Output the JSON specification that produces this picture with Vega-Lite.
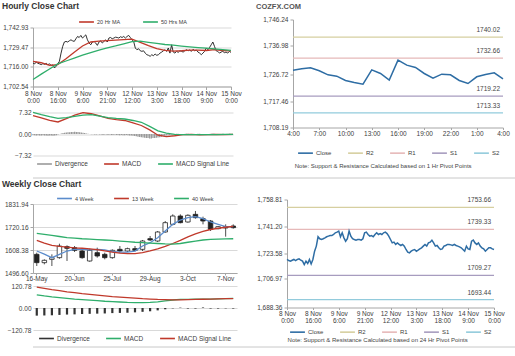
{
"$schema": "https://vega.github.io/schema/vega-lite/v6.json",
"background": "white",
"padding": {"left": 2, "top": 1, "right": 0, "bottom": 0},
"config": {
  "font": "Liberation Sans",
  "view": {"stroke": null},
  "axis": {"labelFontSize": 6.5, "labelColor": "#404040", "domainColor": "#a6a6a6", "tickColor": "#a6a6a6", "gridColor": "#d9d9d9", "tickSize": 3, "labelPadding": 2, "labelOverlap": false},
  "axisX": {"labelFlush": false},
  "legend": {"labelFontSize": 6, "labelColor": "#404040", "symbolType": "stroke", "symbolSize": 220, "symbolStrokeWidth": 1.6, "direction": "horizontal", "title": null, "columnPadding": 12, "offset": 3, "padding": 0, "labelOffset": 2, "layout": {"top": {"anchor": "middle"}, "bottom": {"anchor": "middle"}}},
  "title": {"fontSize": 8.5, "fontWeight": "bold", "color": "#333333", "anchor": "start", "frame": "bounds", "offset": 1}
},
"datasets": {
  "sep": [{"y": 0}],
  "h": [
{"i":0,"c":1718.6,"d":-0.4},{"i":1,"c":1718.0,"d":-0.4},{"i":2,"c":1719.3,"d":-0.5},{"i":3,"c":1718.4,"d":-0.4},{"i":4,"c":1718.0,"d":-0.5},
{"i":5,"c":1717.5,"d":-0.5},{"i":6,"c":1718.2,"d":-0.4},{"i":7,"c":1717.7,"d":-0.5},{"i":8,"c":1718.4,"d":-0.5},{"i":9,"c":1717.5,"d":-0.6},
{"i":10,"c":1718.0,"d":-0.5},{"i":11,"c":1717.0,"d":-0.5},{"i":12,"c":1717.3,"d":-0.6},{"i":13,"c":1715.2,"d":-0.5},{"i":14,"c":1716.4,"d":-0.4},
{"i":15,"c":1718.0,"d":-0.2},{"i":16,"c":1719.8,"d":0.0},{"i":17,"c":1725.4,"d":0.2},{"i":18,"c":1730.0,"d":0.3},{"i":19,"c":1733.0,"d":0.4},
{"i":20,"c":1733.4,"d":0.5},{"i":21,"c":1733.0,"d":0.6},{"i":22,"c":1733.8,"d":0.6},{"i":23,"c":1734.5,"d":0.7},{"i":24,"c":1733.8,"d":0.7},
{"i":25,"c":1733.4,"d":0.8},{"i":26,"c":1735.2,"d":0.7},{"i":27,"c":1736.8,"d":0.7},{"i":28,"c":1736.1,"d":0.6},{"i":29,"c":1737.5,"d":0.5},
{"i":30,"c":1735.7,"d":0.4},{"i":31,"c":1736.8,"d":0.3},{"i":32,"c":1737.9,"d":0.2},{"i":33,"c":1734.5,"d":0.1},{"i":34,"c":1732.3,"d":0.0},
{"i":35,"c":1731.1,"d":-0.1},{"i":36,"c":1733.0,"d":-0.1},{"i":37,"c":1733.4,"d":-0.2},{"i":38,"c":1732.3,"d":-0.2},{"i":39,"c":1730.7,"d":-0.1},
{"i":40,"c":1733.0,"d":-0.2},{"i":41,"c":1733.8,"d":-0.2},{"i":42,"c":1732.3,"d":-0.3},{"i":43,"c":1733.4,"d":-0.2},{"i":44,"c":1734.5,"d":-0.2},
{"i":45,"c":1733.0,"d":-0.3},{"i":46,"c":1735.7,"d":-0.2},{"i":47,"c":1736.1,"d":-0.3},{"i":48,"c":1735.2,"d":-0.3},{"i":49,"c":1735.7,"d":-0.2},
{"i":50,"c":1736.3,"d":-0.3},{"i":51,"c":1736.1,"d":-0.3},{"i":52,"c":1735.7,"d":-0.4},{"i":53,"c":1736.6,"d":-0.3},{"i":54,"c":1736.1,"d":-0.4},
{"i":55,"c":1736.8,"d":-0.4},{"i":56,"c":1735.7,"d":-0.3},{"i":57,"c":1736.8,"d":-0.4},{"i":58,"c":1737.5,"d":-0.5},{"i":59,"c":1736.1,"d":-0.5},
{"i":60,"c":1734.5,"d":-0.6},{"i":61,"c":1733.4,"d":-0.7},{"i":62,"c":1728.9,"d":-0.8},{"i":63,"c":1727.7,"d":-0.9},{"i":64,"c":1728.4,"d":-1.0},
{"i":65,"c":1727.0,"d":-1.1},{"i":66,"c":1726.6,"d":-1.2},{"i":67,"c":1727.0,"d":-1.3},{"i":68,"c":1725.4,"d":-1.4},{"i":69,"c":1724.3,"d":-1.4},
{"i":70,"c":1723.9,"d":-1.5},{"i":71,"c":1723.2,"d":-1.5},{"i":72,"c":1724.3,"d":-1.4},{"i":73,"c":1723.6,"d":-1.4},{"i":74,"c":1724.8,"d":-1.3},
{"i":75,"c":1723.9,"d":-1.2},{"i":76,"c":1724.3,"d":-1.1},{"i":77,"c":1725.4,"d":-0.9},{"i":78,"c":1726.1,"d":-0.8},{"i":79,"c":1727.0,"d":-0.6},
{"i":80,"c":1727.7,"d":-0.5},{"i":81,"c":1726.6,"d":-0.4},{"i":82,"c":1728.9,"d":-0.3},{"i":83,"c":1725.4,"d":-0.2},{"i":84,"c":1731.1,"d":-0.1},
{"i":85,"c":1726.1,"d":0.0},{"i":86,"c":1725.4,"d":0.1},{"i":87,"c":1726.6,"d":0.1},{"i":88,"c":1725.9,"d":0.0},{"i":89,"c":1727.0,"d":-0.1},
{"i":90,"c":1726.6,"d":-0.1},{"i":91,"c":1726.1,"d":0.0},{"i":92,"c":1727.0,"d":0.1},{"i":93,"c":1727.7,"d":0.1},{"i":94,"c":1727.0,"d":0.0},
{"i":95,"c":1727.5,"d":-0.1},{"i":96,"c":1726.6,"d":-0.2},{"i":97,"c":1728.0,"d":-0.1},{"i":98,"c":1727.0,"d":0.0},{"i":99,"c":1727.5,"d":0.1},
{"i":100,"c":1726.1,"d":0.1},{"i":101,"c":1725.4,"d":0.0},{"i":102,"c":1724.3,"d":-0.1},{"i":103,"c":1725.4,"d":-0.2},{"i":104,"c":1726.6,"d":-0.2},
{"i":105,"c":1728.9,"d":-0.1},{"i":106,"c":1727.7,"d":0.0},{"i":107,"c":1729.3,"d":0.1},{"i":108,"c":1731.1,"d":0.2},{"i":109,"c":1733.0,"d":0.1},
{"i":110,"c":1730.0,"d":0.0},{"i":111,"c":1727.0,"d":-0.1},{"i":112,"c":1726.6,"d":-0.1},{"i":113,"c":1725.4,"d":0.0},{"i":114,"c":1726.1,"d":0.1},
{"i":115,"c":1726.6,"d":0.0},{"i":116,"c":1725.7,"d":-0.1},{"i":117,"c":1726.1,"d":0.0},{"i":118,"c":1725.4,"d":0.1},{"i":119,"c":1726.6,"d":0.0},
{"i":120,"c":1725.9,"d":-0.1}
  ],
  "hs": [
{"i":0,"20 Hr MA":1719.8,"50 Hrs MA":1707.3,"MACD":6.24,"MACD Signal Line":7.38},
{"i":5,"20 Hr MA":1718.8,"50 Hrs MA":1711.0,"MACD":5.5,"MACD Signal Line":6.6},
{"i":10,"20 Hr MA":1717.0,"50 Hrs MA":1714.5,"MACD":4.6,"MACD Signal Line":5.9},
{"i":15,"20 Hr MA":1717.5,"50 Hrs MA":1718.0,"MACD":4.1,"MACD Signal Line":5.3},
{"i":20,"20 Hr MA":1721.5,"50 Hrs MA":1720.0,"MACD":5.2,"MACD Signal Line":5.6},
{"i":25,"20 Hr MA":1726.0,"50 Hrs MA":1722.0,"MACD":6.4,"MACD Signal Line":6.0},
{"i":30,"20 Hr MA":1730.3,"50 Hrs MA":1724.0,"MACD":7.3,"MACD Signal Line":6.4},
{"i":35,"20 Hr MA":1733.0,"50 Hrs MA":1725.8,"MACD":6.9,"MACD Signal Line":6.6},
{"i":40,"20 Hr MA":1733.6,"50 Hrs MA":1727.5,"MACD":6.2,"MACD Signal Line":6.1},
{"i":45,"20 Hr MA":1734.0,"50 Hrs MA":1729.0,"MACD":5.3,"MACD Signal Line":5.6},
{"i":50,"20 Hr MA":1734.3,"50 Hrs MA":1730.3,"MACD":4.9,"MACD Signal Line":5.3},
{"i":55,"20 Hr MA":1734.6,"50 Hrs MA":1731.8,"MACD":4.6,"MACD Signal Line":5.1},
{"i":60,"20 Hr MA":1735.0,"50 Hrs MA":1733.2,"MACD":3.8,"MACD Signal Line":4.6},
{"i":65,"20 Hr MA":1732.8,"50 Hrs MA":1733.6,"MACD":2.9,"MACD Signal Line":4.0},
{"i":70,"20 Hr MA":1730.5,"50 Hrs MA":1732.8,"MACD":1.4,"MACD Signal Line":2.6},
{"i":75,"20 Hr MA":1728.5,"50 Hrs MA":1732.0,"MACD":-0.4,"MACD Signal Line":1.1},
{"i":80,"20 Hr MA":1727.2,"50 Hrs MA":1731.3,"MACD":-0.9,"MACD Signal Line":0.3},
{"i":85,"20 Hr MA":1726.8,"50 Hrs MA":1730.8,"MACD":-0.6,"MACD Signal Line":-0.1},
{"i":90,"20 Hr MA":1727.0,"50 Hrs MA":1730.2,"MACD":-0.2,"MACD Signal Line":-0.2},
{"i":95,"20 Hr MA":1727.4,"50 Hrs MA":1729.7,"MACD":-0.1,"MACD Signal Line":-0.2},
{"i":100,"20 Hr MA":1727.5,"50 Hrs MA":1729.2,"MACD":-0.3,"MACD Signal Line":-0.2},
{"i":105,"20 Hr MA":1727.2,"50 Hrs MA":1728.8,"MACD":-0.2,"MACD Signal Line":-0.2},
{"i":110,"20 Hr MA":1727.8,"50 Hrs MA":1728.3,"MACD":-0.1,"MACD Signal Line":-0.2},
{"i":115,"20 Hr MA":1727.2,"50 Hrs MA":1727.8,"MACD":-0.2,"MACD Signal Line":-0.1},
{"i":120,"20 Hr MA":1726.9,"50 Hrs MA":1727.3,"MACD":-0.1,"MACD Signal Line":-0.1}
  ],
  "hp": [
{"i":0,"c":1728.39},{"i":1,"c":1728.86},{"i":2,"c":1729.21},{"i":3,"c":1728.16},{"i":4,"c":1726.75},
{"i":5,"c":1726.28},{"i":6,"c":1724.75},{"i":7,"c":1724.05},{"i":8,"c":1723.46},{"i":9,"c":1728.51},
{"i":10,"c":1727.22},{"i":11,"c":1724.87},{"i":12,"c":1731.91},{"i":13,"c":1730.15},{"i":14,"c":1729.33},
{"i":15,"c":1727.22},{"i":16,"c":1725.57},{"i":17,"c":1726.98},{"i":18,"c":1726.75},{"i":19,"c":1724.75},
{"i":20,"c":1723.69},{"i":21,"c":1726.05},{"i":22,"c":1726.87},{"i":23,"c":1727.45},{"i":24,"c":1725.34}
  ],
  "hl": [{"s":"R2","v":1740.02},{"s":"R1","v":1732.66},{"s":"S1","v":1719.22},{"s":"S2","v":1713.33}],
  "wk": [
{"w":"16-May","o":1587.3,"h":1595.4,"l":1530.6,"c":1546.8,"4 Week":1603.5,"13 Week":1655,"40 Week":1689,"MACD":72,"MACD Signal Line":115,"d":-42},
{"w":"23-May","o":1546.8,"h":1563.0,"l":1538.7,"c":1558.2,"4 Week":1588,"13 Week":1642,"40 Week":1684,"MACD":66,"MACD Signal Line":108,"d":-41},
{"w":"30-May","o":1563.0,"h":1587.3,"l":1530.6,"c":1571.1,"4 Week":1571,"13 Week":1631,"40 Week":1679,"MACD":61,"MACD Signal Line":101,"d":-40},
{"w":"6-Jun","o":1571.1,"h":1639.1,"l":1566.0,"c":1627.8,"4 Week":1587,"13 Week":1626,"40 Week":1674,"MACD":57,"MACD Signal Line":95,"d":-38},
{"w":"13-Jun","o":1624.6,"h":1631.0,"l":1555.0,"c":1616.5,"4 Week":1603.5,"13 Week":1622,"40 Week":1669,"MACD":53,"MACD Signal Line":89,"d":-36},
{"w":"20-Jun","o":1619.7,"h":1627.8,"l":1598.7,"c":1606.8,"4 Week":1611.6,"13 Week":1619,"40 Week":1666,"MACD":49,"MACD Signal Line":84,"d":-35},
{"w":"27-Jun","o":1603.5,"h":1611.6,"l":1566.0,"c":1571.1,"4 Week":1611.6,"13 Week":1617,"40 Week":1663,"MACD":46,"MACD Signal Line":79,"d":-33},
{"w":"4-Jul","o":1554.9,"h":1614.9,"l":1551.7,"c":1606.8,"4 Week":1609,"13 Week":1614,"40 Week":1661,"MACD":43,"MACD Signal Line":75,"d":-32},
{"w":"11-Jul","o":1595.4,"h":1619.7,"l":1571.1,"c":1579.2,"4 Week":1611.6,"13 Week":1610,"40 Week":1659,"MACD":40,"MACD Signal Line":71,"d":-31},
{"w":"18-Jul","o":1587.3,"h":1595.4,"l":1563.0,"c":1571.1,"4 Week":1609,"13 Week":1604,"40 Week":1657,"MACD":37,"MACD Signal Line":67,"d":-30},
{"w":"25-Jul","o":1571.1,"h":1611.6,"l":1566.0,"c":1606.8,"4 Week":1601,"13 Week":1598,"40 Week":1655,"MACD":35,"MACD Signal Line":63,"d":-28},
{"w":"1-Aug","o":1611.6,"h":1627.8,"l":1595.4,"c":1603.5,"4 Week":1598,"13 Week":1593,"40 Week":1652,"MACD":33,"MACD Signal Line":60,"d":-27},
{"w":"8-Aug","o":1603.5,"h":1619.7,"l":1598.7,"c":1614.9,"4 Week":1598,"13 Week":1591,"40 Week":1649,"MACD":31,"MACD Signal Line":57,"d":-26},
{"w":"15-Aug","o":1614.9,"h":1627.8,"l":1601.9,"c":1606.8,"4 Week":1603,"13 Week":1591,"40 Week":1646,"MACD":30,"MACD Signal Line":54,"d":-24},
{"w":"22-Aug","o":1611.6,"h":1657.0,"l":1603.5,"c":1652.1,"4 Week":1627.8,"13 Week":1596,"40 Week":1644,"MACD":30,"MACD Signal Line":51,"d":-21},
{"w":"29-Aug","o":1663.5,"h":1676.4,"l":1652.1,"c":1657.0,"4 Week":1644,"13 Week":1604,"40 Week":1642,"MACD":31,"MACD Signal Line":49,"d":-18},
{"w":"5-Sep","o":1652.1,"h":1700.7,"l":1647.3,"c":1695.9,"4 Week":1668,"13 Week":1614,"40 Week":1640,"MACD":34,"MACD Signal Line":47,"d":-13},
{"w":"12-Sep","o":1695.9,"h":1749.3,"l":1692.6,"c":1741.2,"4 Week":1700.7,"13 Week":1626,"40 Week":1638,"MACD":39,"MACD Signal Line":46,"d":-7},
{"w":"19-Sep","o":1733.1,"h":1781.7,"l":1728.2,"c":1773.6,"4 Week":1733,"13 Week":1640,"40 Week":1637,"MACD":44,"MACD Signal Line":45,"d":-2},
{"w":"26-Sep","o":1773.6,"h":1781.7,"l":1738.0,"c":1741.2,"4 Week":1754,"13 Week":1655,"40 Week":1640,"MACD":47,"MACD Signal Line":45,"d":2},
{"w":"3-Oct","o":1744.5,"h":1781.7,"l":1741.2,"c":1776.9,"4 Week":1765.5,"13 Week":1672,"40 Week":1646,"MACD":47,"MACD Signal Line":46,"d":-3},
{"w":"10-Oct","o":1781.7,"h":1798.0,"l":1760.6,"c":1765.5,"4 Week":1770.4,"13 Week":1687,"40 Week":1652,"MACD":48,"MACD Signal Line":47,"d":-3},
{"w":"17-Oct","o":1760.6,"h":1770.4,"l":1733.1,"c":1749.3,"4 Week":1760.6,"13 Week":1699,"40 Week":1657,"MACD":49,"MACD Signal Line":48,"d":3},
{"w":"24-Oct","o":1749.3,"h":1754.2,"l":1700.7,"c":1708.8,"4 Week":1744.5,"13 Week":1708,"40 Week":1660,"MACD":49,"MACD Signal Line":49,"d":-3},
{"w":"31-Oct","o":1712.0,"h":1725.0,"l":1708.8,"c":1721.8,"4 Week":1733,"13 Week":1714,"40 Week":1661,"MACD":50,"MACD Signal Line":50,"d":-3},
{"w":"7-Nov","o":1721.8,"h":1733.1,"l":1673.2,"c":1715.3,"4 Week":1721.8,"13 Week":1719,"40 Week":1662,"MACD":51,"MACD Signal Line":51,"d":-2},
{"w":"14-Nov","o":1725.0,"h":1733.1,"l":1712.0,"c":1716.9,"4 Week":1721.8,"13 Week":1723,"40 Week":1663,"MACD":53,"MACD Signal Line":52,"d":-3}
  ],
  "dp": [
{"i":0,"c":1719.7},{"i":1,"c":1719.0},{"i":2,"c":1718.6},{"i":3,"c":1719.2},{"i":4,"c":1719.7},{"i":5,"c":1719.0},{"i":6,"c":1719.7},{"i":7,"c":1720.1},{"i":8,"c":1719.2},{"i":9,"c":1718.6},
{"i":10,"c":1716.4},{"i":11,"c":1718.6},{"i":12,"c":1717.1},{"i":13,"c":1719.7},{"i":14,"c":1716.8},{"i":15,"c":1719.7},{"i":16,"c":1725.1},{"i":17,"c":1728.4},{"i":18,"c":1734.5},{"i":19,"c":1733.2},
{"i":20,"c":1732.7},{"i":21,"c":1733.2},{"i":22,"c":1733.8},{"i":23,"c":1734.5},{"i":24,"c":1734.9},{"i":25,"c":1735.3},{"i":26,"c":1735.3},{"i":27,"c":1736.0},{"i":28,"c":1737.1},{"i":29,"c":1737.5},
{"i":30,"c":1738.2},{"i":31,"c":1734.5},{"i":32,"c":1737.1},{"i":33,"c":1733.8},{"i":34,"c":1731.6},{"i":35,"c":1733.2},{"i":36,"c":1738.2},{"i":37,"c":1734.9},{"i":38,"c":1733.2},{"i":39,"c":1732.7},
{"i":40,"c":1732.3},{"i":41,"c":1732.7},{"i":42,"c":1732.7},{"i":43,"c":1732.3},{"i":44,"c":1733.2},{"i":45,"c":1737.1},{"i":46,"c":1737.5},{"i":47,"c":1736.0},{"i":48,"c":1734.9},{"i":49,"c":1735.3},
{"i":50,"c":1734.5},{"i":51,"c":1736.0},{"i":52,"c":1737.1},{"i":53,"c":1736.0},{"i":54,"c":1736.6},{"i":55,"c":1736.0},{"i":56,"c":1737.1},{"i":57,"c":1737.5},{"i":58,"c":1736.6},{"i":59,"c":1734.9},
{"i":60,"c":1732.7},{"i":61,"c":1730.5},{"i":62,"c":1731.0},{"i":63,"c":1729.5},{"i":64,"c":1730.5},{"i":65,"c":1729.5},{"i":66,"c":1728.8},{"i":67,"c":1729.5},{"i":68,"c":1728.4},{"i":69,"c":1726.2},
{"i":70,"c":1724.5},{"i":71,"c":1724.0},{"i":72,"c":1725.1},{"i":73,"c":1725.8},{"i":74,"c":1726.2},{"i":75,"c":1725.1},{"i":76,"c":1725.8},{"i":77,"c":1726.6},{"i":78,"c":1727.3},{"i":79,"c":1728.4},
{"i":80,"c":1729.5},{"i":81,"c":1728.4},{"i":82,"c":1730.5},{"i":83,"c":1731.0},{"i":84,"c":1732.3},{"i":85,"c":1730.5},{"i":86,"c":1728.4},{"i":87,"c":1728.8},{"i":88,"c":1727.3},{"i":89,"c":1726.2},
{"i":90,"c":1726.6},{"i":91,"c":1728.4},{"i":92,"c":1728.8},{"i":93,"c":1729.5},{"i":94,"c":1729.5},{"i":95,"c":1729.2},{"i":96,"c":1728.8},{"i":97,"c":1729.5},{"i":98,"c":1728.8},{"i":99,"c":1728.4},
{"i":100,"c":1727.9},{"i":101,"c":1727.3},{"i":102,"c":1726.2},{"i":103,"c":1725.1},{"i":104,"c":1728.4},{"i":105,"c":1726.6},{"i":106,"c":1726.2},{"i":107,"c":1731.6},{"i":108,"c":1732.3},{"i":109,"c":1730.5},
{"i":110,"c":1729.5},{"i":111,"c":1730.5},{"i":112,"c":1728.4},{"i":113,"c":1727.3},{"i":114,"c":1726.6},{"i":115,"c":1725.1},{"i":116,"c":1726.2},{"i":117,"c":1727.3},{"i":118,"c":1727.3},{"i":119,"c":1726.6},
{"i":120,"c":1726.2}
  ],
  "dl": [{"s":"R2","v":1753.66},{"s":"R1","v":1739.33},{"s":"S1","v":1709.27},{"s":"S2","v":1693.44}]
},
"resolve": {"scale": {"x": "independent", "y": "independent", "color": "independent"}, "legend": {"color": "independent"}, "axis": {"x": "independent", "y": "independent"}},
"align": "none",
"spacing": 0,
"vconcat": [
 {"align": "none", "spacing": 8,
  "resolve": {"scale": {"x": "independent", "y": "independent", "color": "independent"}, "legend": {"color": "independent"}, "axis": {"x": "independent", "y": "independent"}},
  "vconcat": [
  {"align": "none", "spacing": 14,
   "resolve": {"scale": {"x": "independent", "y": "independent", "color": "independent"}, "legend": {"color": "independent"}, "axis": {"x": "independent", "y": "independent"}},
   "hconcat": [
   {"align": "none", "spacing": 1.5,
    "resolve": {"scale": {"x": "independent", "y": "independent", "color": "independent"}, "legend": {"color": "independent"}, "axis": {"x": "independent", "y": "independent"}},
    "vconcat": [
    {"title": {"text": "Hourly Close Chart", "dx": -31}, "data": {"name": "sep"}, "width": 198, "height": 1,
     "mark": {"type": "rule", "strokeOpacity": 0},
     "encoding": {"y": {"field": "y", "type": "quantitative", "scale": {"domain": [0, 1]}, "axis": null}}},
    {"spacing": 5,
     "resolve": {"scale": {"x": "independent", "y": "independent", "color": "independent"}, "legend": {"color": "independent"}, "axis": {"x": "independent", "y": "independent"}},
     "vconcat": [
     {"width": 198, "height": 59,
      "layer": [
       {"data": {"name": "h"}, "mark": {"type": "line", "color": "#1a1a1a", "strokeWidth": 0.9},
        "encoding": {
         "x": {"field": "i", "type": "quantitative", "title": null, "scale": {"domain": [0, 120], "nice": false, "zero": false},
               "axis": {"values": [0,15,30,45,60,75,90,105,120], "tickCount": 30, "grid": false, "labelOverlap": false, "labelLineHeight": 7, "labelPadding": 1,
                        "labelExpr": "[['8 Nov','0:00'],['8 Nov','16:00'],['9 Nov','6:00'],['9 Nov','21:00'],['12 Nov','12:00'],['13 Nov','3:00'],['13 Nov','18:00'],['14 Nov','9:00'],['15 Nov','0:00']][datum.value / 15]"}},
         "y": {"field": "c", "type": "quantitative", "title": null, "scale": {"domain": [1702.54, 1742.93], "nice": false, "zero": false},
               "axis": {"values": [1702.54, 1716.0, 1729.47, 1742.93], "tickCount": 30, "format": ",.2f", "grid": true, "labelOverlap": false, "minExtent": 31, "maxExtent": 31}}}},
       {"data": {"name": "hs"}, "transform": [{"fold": ["20 Hr MA", "50 Hrs MA"], "as": ["s", "v"]}],
        "mark": {"type": "line", "strokeWidth": 1.3},
        "encoding": {
         "x": {"field": "i", "type": "quantitative", "title": null},
         "y": {"field": "v", "type": "quantitative", "title": null},
         "color": {"field": "s", "type": "nominal", "scale": {"domain": ["20 Hr MA", "50 Hrs MA"], "range": ["#c0392b", "#2fae6b"]}, "legend": {"orient": "top", "offset": 2, "labelFontSize": 5.5, "columnPadding": 18}}}}
      ]},
     {"width": 200, "height": 43,
      "layer": [
       {"data": {"name": "h"}, "mark": {"type": "rule", "strokeWidth": 1.3},
        "encoding": {
         "x": {"field": "i", "type": "quantitative", "title": null, "scale": {"domain": [0, 120], "nice": false, "zero": false}, "axis": null},
         "y": {"field": "d", "type": "quantitative", "title": null, "scale": {"domain": [-7.32, 7.32], "nice": false},
               "axis": {"values": [-7.32, 0, 7.32], "tickCount": 30, "format": ".2f", "grid": true, "labelOverlap": false, "domain": false, "ticks": false, "minExtent": 31, "maxExtent": 31}},
         "y2": {"datum": 0},
         "color": {"datum": "Divergence", "type": "nominal"}}},
       {"data": {"name": "hs"}, "transform": [{"fold": ["MACD", "MACD Signal Line"], "as": ["s", "v"]}],
        "mark": {"type": "line", "strokeWidth": 1.3},
        "encoding": {
         "x": {"field": "i", "type": "quantitative", "title": null},
         "y": {"field": "v", "type": "quantitative", "title": null},
         "color": {"field": "s", "type": "nominal", "scale": {"domain": ["Divergence", "MACD", "MACD Signal Line"], "range": ["#9a9a9a", "#c0392b", "#2fae6b"]}, "legend": {"orient": "bottom", "offset": 0, "labelFontSize": 6.5}}}}
      ]}
    ]}
   ]},
   {"align": "none", "spacing": 4.5,
    "resolve": {"scale": {"x": "independent", "y": "independent", "color": "independent"}, "legend": {"color": "independent"}, "axis": {"x": "independent", "y": "independent"}},
    "vconcat": [
    {"title": {"text": "COZFX.COM", "fontSize": 7.5, "color": "#555555", "dx": -37}, "data": {"name": "sep"}, "width": 210, "height": 1,
     "mark": {"type": "rule", "strokeOpacity": 0},
     "encoding": {"y": {"field": "y", "type": "quantitative", "scale": {"domain": [0, 1]}, "axis": null}}},
    {"title": {"text": "Note: Support & Resistance Calculated based on 1 Hr Pivot Points", "orient": "bottom", "anchor": "middle", "fontSize": 6, "fontWeight": "normal", "color": "#444444", "offset": 6},
     "resolve": {"scale": {"x": "independent", "y": "independent", "color": "independent"}, "legend": {"color": "independent"}, "axis": {"x": "independent", "y": "independent"}},
     "vconcat": [
     {"width": 210, "height": 108,
      "layer": [
       {"data": {"name": "hl"}, "mark": {"type": "rule", "strokeWidth": 1.2},
        "encoding": {
         "y": {"field": "v", "type": "quantitative", "title": null, "scale": {"domain": [1708.19, 1746.24], "nice": false, "zero": false},
               "axis": {"values": [1708.19, 1717.46, 1726.72, 1736.98, 1746.24], "tickCount": 30, "format": ",.2f", "grid": false, "labelOverlap": false, "minExtent": 36, "maxExtent": 36}},
         "color": {"field": "s", "type": "nominal", "scale": {"domain": ["Close", "R2", "R1", "S1", "S2"], "range": ["#2e6da4", "#d6cfa0", "#e6b9b9", "#a79cbf", "#92cbdc"]}, "legend": {"orient": "bottom", "offset": 7}}}},
       {"data": {"name": "hl"}, "mark": {"type": "text", "align": "right", "dx": -3, "dy": -7, "fontSize": 6.5, "color": "#444444"},
        "encoding": {
         "x": {"datum": 24, "type": "quantitative"},
         "y": {"field": "v", "type": "quantitative", "title": null},
         "text": {"field": "v", "type": "quantitative", "format": ".2f"}}},
       {"data": {"name": "hp"}, "mark": {"type": "line", "strokeWidth": 1.5},
        "encoding": {
         "x": {"field": "i", "type": "quantitative", "title": null, "scale": {"domain": [0, 24], "nice": false, "zero": false},
               "axis": {"values": [0,3,6,9,12,15,18,21,24], "tickCount": 30, "grid": false, "labelOverlap": false, "tickSize": 2, "labelPadding": 1, "labelExpr": "((4 + datum.value) % 24) + ':00'"}},
         "y": {"field": "c", "type": "quantitative", "title": null},
         "color": {"datum": "Close", "type": "nominal"}}}
      ]}
    ]}
   ]}
  ]},
  {"data": {"name": "sep"}, "width": 508, "height": 1, "mark": {"type": "rule", "color": "#c8c8c8", "strokeWidth": 1},
   "encoding": {"y": {"field": "y", "type": "quantitative", "scale": {"domain": [0, 1]}, "axis": null}}}
 ]},
 {"align": "none", "spacing": 3,
  "resolve": {"scale": {"x": "independent", "y": "independent", "color": "independent"}, "legend": {"color": "independent"}, "axis": {"x": "independent", "y": "independent"}},
  "vconcat": [
  {"align": "none", "spacing": 14,
   "resolve": {"scale": {"x": "independent", "y": "independent", "color": "independent"}, "legend": {"color": "independent"}, "axis": {"x": "independent", "y": "independent"}},
   "hconcat": [
   {"align": "none", "spacing": 0,
    "resolve": {"scale": {"x": "independent", "y": "independent", "color": "independent"}, "legend": {"color": "independent"}, "axis": {"x": "independent", "y": "independent"}},
    "vconcat": [
    {"title": {"text": "Weekly Close Chart", "dx": -31}, "data": {"name": "sep"}, "width": 198, "height": 1,
     "mark": {"type": "rule", "strokeOpacity": 0},
     "encoding": {"y": {"field": "y", "type": "quantitative", "scale": {"domain": [0, 1]}, "axis": null}}},
    {"spacing": 1,
     "resolve": {"scale": {"x": "independent", "y": "independent", "color": "independent"}, "legend": {"color": "independent"}, "axis": {"x": "independent", "y": "independent"}},
     "vconcat": [
     {"width": 204, "height": 69,
      "data": {"name": "wk"},
      "encoding": {"x": {"field": "w", "type": "ordinal", "sort": null, "title": null, "scale": {"paddingInner": 0, "paddingOuter": 0},
                         "axis": {"values": ["16-May", "20-Jun", "25-Jul", "29-Aug", "3-Oct", "7-Nov"], "labelAngle": 0, "grid": false, "labelOverlap": false, "tickSize": 2, "labelPadding": 0}}},
      "layer": [
       {"mark": {"type": "rule", "color": "#222222", "strokeWidth": 0.8},
        "encoding": {
         "y": {"field": "l", "type": "quantitative", "title": null, "scale": {"domain": [1496.6, 1831.94], "nice": false, "zero": false},
               "axis": {"values": [1496.6, 1608.38, 1720.16, 1831.94], "tickCount": 30, "format": ".2f", "grid": true, "labelOverlap": false, "minExtent": 31, "maxExtent": 31}},
         "y2": {"field": "h"}}},
       {"mark": {"type": "bar", "size": 4.5, "stroke": "#222222", "strokeWidth": 0.8},
        "encoding": {
         "y": {"field": "o", "type": "quantitative", "title": null},
         "y2": {"field": "c"},
         "fill": {"condition": {"test": "datum.o > datum.c", "value": "#222222"}, "value": "#ffffff"}}},
       {"transform": [{"fold": ["4 Week", "13 Week", "40 Week"], "as": ["s", "v"]}],
        "mark": {"type": "line", "strokeWidth": 1.3},
        "encoding": {
         "y": {"field": "v", "type": "quantitative", "title": null},
         "color": {"field": "s", "type": "nominal", "scale": {"domain": ["4 Week", "13 Week", "40 Week"], "range": ["#5b8ccc", "#c0392b", "#2fae6b"]}, "legend": {"orient": "top", "offset": 2, "labelFontSize": 5.5, "columnPadding": 16}}}}
      ]},
     {"width": 204, "height": 44,
      "data": {"name": "wk"},
      "encoding": {"x": {"field": "w", "type": "ordinal", "sort": null, "title": null, "scale": {"paddingInner": 0, "paddingOuter": 0}, "axis": null}},
      "layer": [
       {"mark": {"type": "rule", "strokeWidth": 2.2},
        "encoding": {
         "y": {"field": "d", "type": "quantitative", "title": null, "scale": {"domain": [-120.78, 120.78], "nice": false},
               "axis": {"values": [-120.78, 0, 120.78], "tickCount": 30, "format": ".2f", "grid": true, "labelOverlap": false, "domain": false, "ticks": false, "minExtent": 31, "maxExtent": 31}},
         "y2": {"datum": 0},
         "color": {"datum": "Divergence", "type": "nominal"}}},
       {"transform": [{"fold": ["MACD", "MACD Signal Line"], "as": ["s", "v"]}],
        "mark": {"type": "line", "strokeWidth": 1.3},
        "encoding": {
         "y": {"field": "v", "type": "quantitative", "title": null},
         "color": {"field": "s", "type": "nominal", "scale": {"domain": ["Divergence", "MACD", "MACD Signal Line"], "range": ["#333333", "#2fae6b", "#c0392b"]}, "legend": {"orient": "bottom", "offset": 0, "labelFontSize": 6.5}}}}
      ]}
    ]}
   ]},
   {"align": "none", "spacing": 6.5,
    "resolve": {"scale": {"x": "independent", "y": "independent", "color": "independent"}, "legend": {"color": "independent"}, "axis": {"x": "independent", "y": "independent"}},
    "vconcat": [
    {"title": {"text": " "}, "data": {"name": "sep"}, "width": 207, "height": 1,
     "mark": {"type": "rule", "strokeOpacity": 0},
     "encoding": {"y": {"field": "y", "type": "quantitative", "scale": {"domain": [0, 1]}, "axis": null}}},
    {"title": {"text": "Note: Support & Resistance Calculated based on 24 Hr Pivot Points", "orient": "bottom", "anchor": "middle", "fontSize": 6, "fontWeight": "normal", "color": "#444444", "offset": 1},
     "resolve": {"scale": {"x": "independent", "y": "independent", "color": "independent"}, "legend": {"color": "independent"}, "axis": {"x": "independent", "y": "independent"}},
     "vconcat": [
     {"width": 207, "height": 108,
      "layer": [
       {"data": {"name": "dl"}, "mark": {"type": "rule", "strokeWidth": 1.2},
        "encoding": {
         "y": {"field": "v", "type": "quantitative", "title": null, "scale": {"domain": [1688.36, 1758.81], "nice": false, "zero": false},
               "axis": {"values": [1688.36, 1706.97, 1723.58, 1741.2, 1758.81], "tickCount": 30, "format": ",.2f", "grid": false, "labelOverlap": false, "minExtent": 36, "maxExtent": 36}},
         "color": {"field": "s", "type": "nominal", "scale": {"domain": ["Close", "R2", "R1", "S1", "S2"], "range": ["#2e6da4", "#d6cfa0", "#e6b9b9", "#a79cbf", "#92cbdc"]}, "legend": {"orient": "bottom", "offset": 0}}}},
       {"data": {"name": "dl"}, "mark": {"type": "text", "align": "right", "dx": -3, "dy": -7, "fontSize": 6.5, "color": "#444444"},
        "encoding": {
         "x": {"datum": 120, "type": "quantitative"},
         "y": {"field": "v", "type": "quantitative", "title": null},
         "text": {"field": "v", "type": "quantitative", "format": ".2f"}}},
       {"data": {"name": "dp"}, "mark": {"type": "line", "strokeWidth": 1.5},
        "encoding": {
         "x": {"field": "i", "type": "quantitative", "title": null, "scale": {"domain": [0, 120], "nice": false, "zero": false},
               "axis": {"values": [0,15,30,45,60,75,90,105,120], "tickCount": 30, "grid": false, "labelOverlap": false, "tickSize": 2, "labelPadding": 1, "labelLineHeight": 6.5,
                        "labelExpr": "[['8 Nov','0:00'],['8 Nov','16:00'],['9 Nov','6:00'],['9 Nov','21:00'],['12 Nov','12:00'],['13 Nov','3:00'],['13 Nov','18:00'],['14 Nov','9:00'],['15 Nov','0:00']][datum.value / 15]"}},
         "y": {"field": "c", "type": "quantitative", "title": null},
         "color": {"datum": "Close", "type": "nominal"}}}
      ]}
    ]}
   ]}
  ]},
  {"data": {"name": "sep"}, "width": 508, "height": 1, "mark": {"type": "rule", "color": "#c8c8c8", "strokeWidth": 1},
   "encoding": {"y": {"field": "y", "type": "quantitative", "scale": {"domain": [0, 1]}, "axis": null}}}
 ]}
]
}
